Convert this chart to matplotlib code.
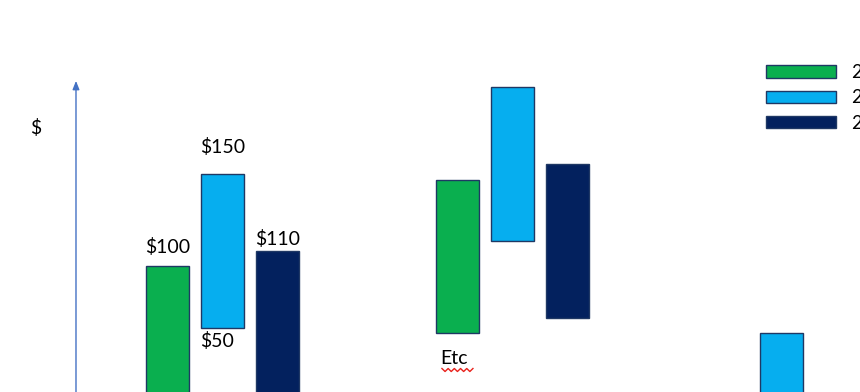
import matplotlib
matplotlib.use("Agg")
import matplotlib.pyplot as plt
from matplotlib.patches import Patch

plt.rcParams["font.family"] = ["Lato", "DejaVu Sans"]

# floating bars: (bottom, top) in $ for each series, per group
group_pos = [0.0, 1.0, 1.926]
series_names = ["2019", "2020", "2021"]
green_lo = [0, 56.5, None]
green_hi = [100, 156, None]
blue_lo = [60, 116, 0]
blue_hi = [160, 216, 56.5]
navy_lo = [0, 66, None]
navy_hi = [110, 166, None]

value_labels = ["$100", "$150", "$110"]
low_label = "$50"
note_text = "Etc"

colors = ["#0AAF4F", "#06AEEF", "#03215E"]
edge = "#1F3864"
width = 0.148
offs = [-0.19, 0.0, 0.19]
fs = 14

fig = plt.figure(figsize=(8.6, 3.92), dpi=100)
ax = fig.add_axes([0, 0, 1, 1])
ax.set_xlim(-0.767, 2.198)
ax.set_ylim(18.2, 272.7)
ax.axis("off")

series = [(green_lo, green_hi), (blue_lo, blue_hi), (navy_lo, navy_hi)]
for k, (lo, hi) in enumerate(series):
    for g, x in enumerate(group_pos):
        if lo[g] is None:
            continue
        # last group only shows the middle series, centred
        xx = x if g == 2 else x + offs[k]
        ax.bar(xx, hi[g] - lo[g], bottom=lo[g], width=width,
               color=colors[k], edgecolor=edge, linewidth=1)

# value labels on first group
lab_off = [7, 13, 2]
for k, (lo, hi) in enumerate(series):
    ax.annotate(value_labels[k], (group_pos[0] + offs[k], hi[0]),
                xytext=(0, lab_off[k]), textcoords="offset points",
                ha="center", va="bottom", fontsize=fs)
ax.annotate(low_label, (group_pos[0] + offs[1] - width / 2, blue_lo[0]),
            xytext=(-1, -3), textcoords="offset points",
            ha="left", va="top", fontsize=fs)

# "Etc" with the red spell-check squiggle under it
etc_x = group_pos[1] + offs[0] - width / 2
ax.annotate(note_text, (etc_x, green_lo[1]),
            xytext=(3, -12), textcoords="offset points",
            ha="left", va="top", fontsize=fs)
base = ax.transData.transform((etc_x, green_lo[1]))
zx = [base[0] + 6 + i * 3.1 for i in range(11)]
zy = [base[1] - 37 + (-1.5 if i % 2 else 1.5) for i in range(11)]
ax.plot(zx, zy, color="#E8211B", lw=1, transform=None)

# y axis arrow and label
ax.annotate("", xy=(-0.505, 222), xytext=(-0.505, 10),
            arrowprops=dict(arrowstyle="-|>,head_length=0.5,head_width=0.2",
                            color="#4472C4", lw=1))
ax.text(-0.643, 189.6, "$", ha="center", va="center", fontsize=fs)

handles = [Patch(facecolor=c, edgecolor=edge, linewidth=1) for c in colors]
fig.legend(handles, series_names, loc="upper left",
           bbox_to_anchor=(766 / 860, 1 - 64 / 392), frameon=False,
           fontsize=13.5, handlelength=3.75, handleheight=0.64,
           handletextpad=0.8, labelspacing=0.45, borderpad=0, borderaxespad=0)

fig.savefig("out.png", dpi=100)
